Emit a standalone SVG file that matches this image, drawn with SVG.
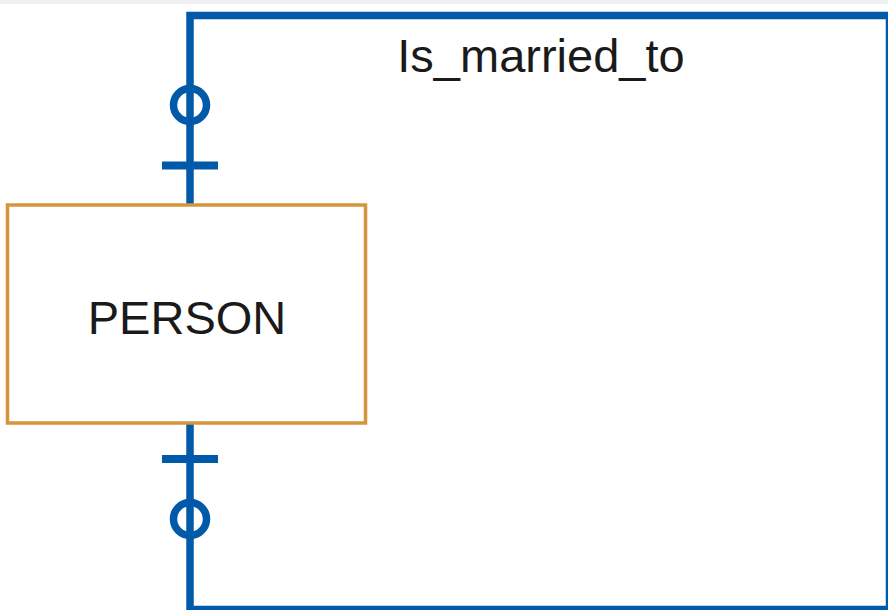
<svg xmlns="http://www.w3.org/2000/svg" width="888" height="610" viewBox="0 0 888 610">
<style>
.conn{fill:none;stroke:#0059a9;stroke-width:7.5}
.tick{stroke:#0059a9;stroke-width:8}
.ring{fill:none;stroke:#0059a9;stroke-width:7.5}
.ent{fill:#ffffff;stroke:#d6953a;stroke-width:3.5}
.lbl{font-family:"Liberation Sans",Arial,sans-serif;font-size:47px;fill:#1a1a1a;text-anchor:middle}
</style>
<rect x="0" y="0" width="888" height="610" fill="#ffffff"/>
<rect x="0" y="0" width="888" height="4" fill="#f0f0f0"/>
<g id="connectors">
<path class="conn" d="M190,205 V15.5 H889.5 V609.5 H190 V423"/>
<line class="tick" x1="162" y1="165.5" x2="218" y2="165.5"/>
<circle class="ring" cx="190" cy="105" r="16.5"/>
<line class="tick" x1="162" y1="459" x2="218" y2="459"/>
<circle class="ring" cx="190" cy="519" r="16.5"/>
<text class="lbl" x="541" y="71.5">Is_married_to</text>
</g>
<g id="person">
<rect class="ent" x="7.5" y="205" width="358" height="218"/>
<text class="lbl" x="187" y="333.5">PERSON</text>
</g>
</svg>
